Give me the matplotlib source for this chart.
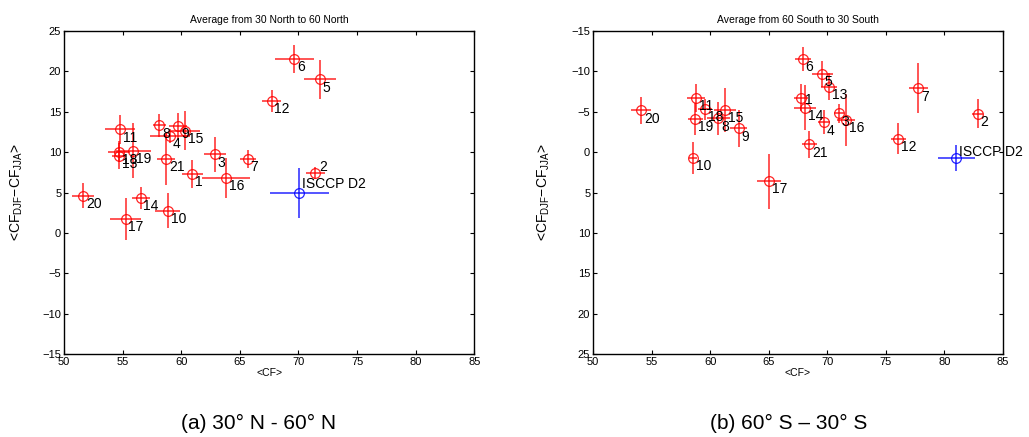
import matplotlib
matplotlib.use('Agg')
import matplotlib.pyplot as plt

# model runs 1..21 plus the ISCCP D2 observation
names = [str(i) for i in range(1, 22)]

# 30N - 60N
north_cf = [60.96, 71.42, 62.86, 59.04, 71.84, 69.65, 65.67, 58.13, 59.75, 58.85, 54.78,
	67.72, 54.69, 56.54, 60.32, 63.82, 55.26, 54.69, 55.91, 51.65, 58.73]
north_diff = [7.30, 7.46, 9.74, 12.00, 19.02, 21.53, 9.16, 13.33, 13.28, 2.76, 12.83,
	16.37, 9.53, 4.37, 12.66, 6.81, 1.77, 10.06, 10.19, 4.62, 9.16]
north_cf_err = [0.88, 0.81, 0.92, 1.70, 1.35, 1.66, 0.67, 0.57, 0.77, 1.07, 1.25,
	0.83, 0.60, 0.78, 1.32, 2.02, 1.35, 0.92, 1.49, 0.93, 0.78]
north_diff_err = [1.75, 0.72, 2.17, 0.90, 2.43, 1.71, 1.09, 1.44, 1.59, 2.17, 1.75,
	1.34, 1.65, 1.34, 2.41, 2.48, 2.60, 1.30, 3.40, 1.55, 3.20]
north_obs = (70.08, 4.99, 2.53, 3.09)

# 60S - 30S
south_cf = [67.76, 82.85, 70.98, 69.70, 69.56, 67.91, 77.78, 60.70, 62.44, 58.54, 58.77,
	76.07, 70.13, 68.08, 61.27, 71.61, 65.03, 59.56, 58.71, 54.10, 68.45]
south_diff = [-6.75, -4.76, -4.81, -3.70, -9.68, -11.53, -7.91, -4.20, -2.96, 0.68, -6.75,
	-1.67, -8.11, -5.51, -5.22, -3.99, 3.56, -5.35, -4.11, -5.19, -0.98]
south_cf_err = [0.57, 0.46, 0.43, 0.50, 0.90, 0.67, 0.78, 1.00, 0.74, 0.38, 0.78,
	0.61, 0.68, 0.94, 0.93, 0.74, 1.02, 0.60, 0.64, 0.88, 0.64]
south_diff_err = [1.65, 1.79, 1.20, 1.49, 1.65, 1.49, 3.09, 2.06, 2.31, 2.00, 1.75,
	1.90, 1.69, 2.78, 2.68, 3.16, 3.40, 1.30, 1.96, 1.65, 1.65]
south_obs = (81.02, 0.72, 1.59, 1.65)

ylab = '<CF$_{\\mathregular{DJF}}$\u2212CF$_{\\mathregular{JJA}}$>'


def panel(ax, cf, diff, cf_err, diff_err, obs, title, obs_offset, special=None):
	ax.errorbar(cf, diff, xerr=cf_err, yerr=diff_err, fmt='o', mfc='none', mec='r',
		ecolor='r', ms=7, mew=0.9, elinewidth=1.1, capsize=0, alpha=0.85)
	ax.errorbar([obs[0]], [obs[1]], xerr=[obs[2]], yerr=[obs[3]], fmt='o', mfc='none',
		mec='b', ecolor='b', ms=7, mew=0.9, elinewidth=1.1, capsize=0, alpha=0.85)
	for i, n in enumerate(names):
		off = (2, -6)
		if special and n in special:
			off = special[n]
		ax.annotate(n, (cf[i], diff[i]), xytext=off, textcoords='offset points',
			fontsize=10, ha='left', va='center')
	ax.annotate('ISCCP D2', (obs[0], obs[1]), xytext=obs_offset, textcoords='offset points',
		fontsize=10, ha='left', va='center', annotation_clip=False)
	ax.set_xlim(50, 85)
	ax.set_ylim(-15, 25)
	ax.set_xticks(range(50, 90, 5))
	ax.set_yticks(range(-15, 30, 5))
	ax.tick_params(direction='in', top=True, right=True, length=3, labelsize=8, pad=2)
	ax.set_title(title, fontsize=7.5, pad=6)
	ax.set_xlabel('<CF>', fontsize=7.5, labelpad=1)
	ax.set_ylabel(ylab, fontsize=10)
	for s in ax.spines.values():
		s.set_linewidth(1.0)


if __name__ == '__main__':
	plt.rcParams['font.family'] = ['Liberation Sans', 'DejaVu Sans']
	plt.rcParams['axes.unicode_minus'] = True

	fig = plt.figure(figsize=(10.29, 4.37), dpi=100)
	ax1 = fig.add_axes([0.0622, 0.1892, 0.3987, 0.7398])
	ax2 = fig.add_axes([0.5763, 0.1892, 0.3984, 0.7398])

	panel(ax1, north_cf, north_diff, north_cf_err, north_diff_err, north_obs,
		'Average from 30 North to 60 North', (2, 6.5), special={'2': (3, 4.3)})
	ax1.yaxis.set_label_coords(-0.095, 0.5)

	panel(ax2, south_cf, south_diff, south_cf_err, south_diff_err, south_obs,
		'Average from 60 South to 30 South', (2, 4.3), special={'1': (3, -2)})
	ax2.invert_yaxis()
	ax2.yaxis.set_label_coords(-0.1, 0.5)

	fig.text(259 / 1029, 1 - 423 / 437, '(a) 30\u00b0 N - 60\u00b0 N', fontsize=15,
		ha='center', va='center')
	fig.text(789 / 1029, 1 - 423 / 437, '(b) 60\u00b0 S \u2013 30\u00b0 S', fontsize=15,
		ha='center', va='center')

	fig.savefig('out.png', dpi=100)
